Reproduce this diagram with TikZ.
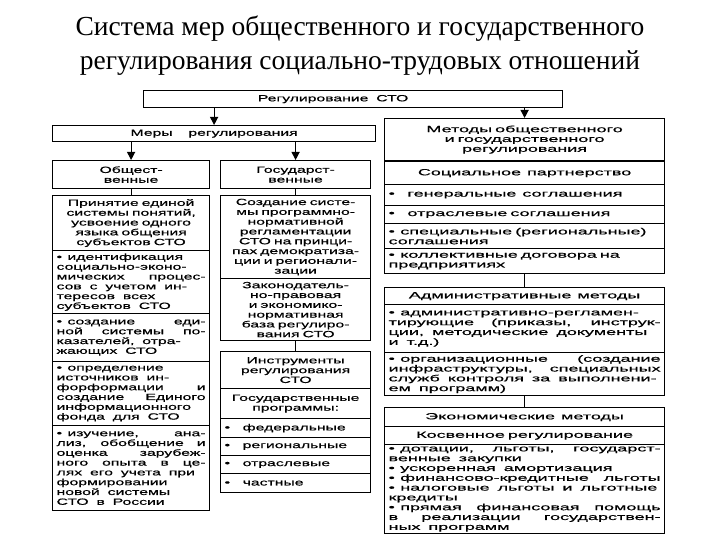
\documentclass[tikz,border=0pt]{standalone}
\usepackage{fontspec}
\setmainfont{Liberation Serif}
\newfontfamily\cellfont[FakeStretch=1.75,WordSpace=1.8,FakeBold=0.6]{Liberation Sans}
\newfontfamily\widecellfont[FakeStretch=2.0,WordSpace=1.6,FakeBold=0.6]{Liberation Sans}
\usetikzlibrary{arrows.meta}
\hyphenpenalty=10000
\exhyphenpenalty=10000
\hbadness=10000
\tolerance=10000
\newcommand{\bul}{•\hspace{0.6em}}
\tikzset{
  cell/.style={draw, line width=1.2pt, anchor=north west, inner xsep=4pt, inner ysep=1pt,
    font=\cellfont\fontsize{9}{9.8}\selectfont, align=center},
  leftcol/.style={minimum width=157pt, text width=149pt},
  midcol/.style={minimum width=150pt, text width=142pt},
  rightcol/.style={minimum width=280pt, text width=272pt, font=\widecellfont\fontsize{9}{9.8}\selectfont},
  link/.style={line width=1.2pt},
  arr/.style={line width=1.2pt, -{Triangle[length=8pt,width=8pt]}}
}
\begin{document}
\begin{tikzpicture}[x=1pt,y=-1pt]
\useasboundingbox (0,0) rectangle (720,540);
% heading
\node [font=\fontsize{27.5}{34}\selectfont, align=center] (title) at (360,46)
  {Система мер общественного и государственного\\регулирования социально-трудовых отношений};

\node [cell, minimum width=419pt, minimum height=17pt] (rsto) at (143,90) {Регулирование СТО\hspace*{40pt}};
\node [cell, minimum width=323pt, minimum height=16pt] (mery) at (52,125) {Меры\ \ регулирования};
\node [cell, rightcol, minimum height=42pt] (metody) at (384,118)
  {Методы общественного\\и государственного\\регулирования};

\node [cell, leftcol, minimum height=28pt] (obsh) at (52,160) {Общест-\\венные};
\node [cell, midcol, minimum height=28pt] (gos) at (220,160) {Государст-\\венные};

% left column
\node [cell, leftcol, minimum height=55pt] (prin) at (52,195)
  {Принятие единой\\системы понятий,\\усвоение одного\\языка общения\\субъектов СТО};
\node [cell, leftcol, minimum height=63pt, align=justify] (ident) at (52,250)
  {\bul идентификация\linebreak социально-эконо-\linebreak мических процес-\linebreak сов с учетом ин-\\тересов всех\\субъектов СТО};
\node [cell, leftcol, minimum height=48pt, align=justify] (sozd) at (52,313)
  {\bul создание еди-\linebreak ной системы по-\linebreak казателей, отра-\\жающих СТО};
\node [cell, leftcol, minimum height=64pt, align=justify] (opred) at (52,361)
  {\bul определение\\источников ин-\\форформации и\linebreak создание Единого\linebreak информационного\linebreak фонда для СТО};
\node [cell, leftcol, minimum height=85pt, align=justify] (izuch) at (52,425)
  {\bul изучение, ана-\linebreak лиз, обобщение и\linebreak оценка зарубеж-\linebreak ного опыта в це-\linebreak лях его учета при\\формировании\\новой системы\\СТО в России};

% middle column
\node [cell, midcol, minimum height=83pt] (sozdsys) at (220,195)
  {Создание систе-\\мы программно-\\нормативной\\регламентации\\СТО на принци-\\пах демократиза-\\ции и регионали-\\зации};
\node [cell, midcol, minimum height=62pt] (zakon) at (220,278)
  {Законодатель-\\но-правовая\\и экономико-\\нормативная\\база регулиро-\\вания СТО};
\node [cell, midcol, minimum height=37pt] (instr) at (220,351)
  {Инструменты\\регулирования\\СТО};
\node [cell, midcol, minimum height=30pt] (gosprog) at (220,388)
  {Государственные\\программы:};
\node [cell, midcol, minimum height=19pt, align=left] (fed) at (220,418) {•\hspace{1.4em}федеральные};
\node [cell, midcol, minimum height=18pt, align=left] (reg) at (220,437) {•\hspace{1.4em}региональные};
\node [cell, midcol, minimum height=18pt, align=left] (otr) at (220,455) {•\hspace{1.4em}отраслевые};
\node [cell, midcol, minimum height=19pt, align=left] (chast) at (220,473) {•\hspace{1.4em}частные};

% right column
\node [cell, rightcol, minimum height=23pt] (socp) at (384,161) {Социальное\ \ партнерство};
\node [cell, rightcol, minimum height=21pt, align=left] (gen) at (384,184)
  {•\hspace{1.4em}генеральные\ \ соглашения};
\node [cell, rightcol, minimum height=18pt, align=left] (otrs) at (384,205)
  {•\hspace{1.4em}отраслевые соглашения};
\node [cell, rightcol, minimum height=25pt, align=left] (spec) at (384,223)
  {\bul специальные (региональные)\\соглашения};
\node [cell, rightcol, minimum height=25pt, align=left] (koll) at (384,248)
  {\bul коллективные договора на\\предприятиях};

\node [cell, rightcol, minimum height=17pt] (adm) at (384,287) {Административные\ \ методы};
\node [cell, rightcol, minimum height=48pt, align=justify] (admreg) at (384,304)
  {\bul административно-регламен-\linebreak тирующие (приказы, инструк-\linebreak ции, методические документы\\и т.д.)};
\node [cell, rightcol, minimum height=43pt, align=justify] (org) at (384,352)
  {\bul организационные (создание\linebreak инфраструктуры, специальных\linebreak служб контроля за выполнени-\\ем программ)};

\node [cell, rightcol, minimum height=19pt] (econ) at (384,407) {Экономические\ \ методы};
\node [cell, rightcol, minimum height=18pt] (kosv) at (384,426) {Косвенное регулирование};
\node [cell, rightcol, minimum height=89pt, inner ysep=0pt, align=justify] (list) at (384,444)
  {\bul дотации, льготы, государст-\linebreak венные закупки\\\bul ускоренная амортизация\\\bul финансово-кредитные льготы\linebreak \bul налоговые льготы и льготные\\кредиты\\\bul прямая финансовая помощь\linebreak в реализации государствен-\linebreak ных программ};

% arrows
\draw [arr] (mery.north |- rsto.south) -- (mery.north);
\draw [arr] (metody.north |- rsto.south) -- (metody.north);
\draw [arr] (obsh.north |- mery.south) -- (obsh.north);
\draw [arr] (gos.north |- mery.south) -- (gos.north);

\draw [link] (obsh.south) -- (prin.north);
\draw [link] (gos.south) -- (sozdsys.north);
\draw [link] (zakon.south) -- (instr.north);
\draw [link] (koll.south) -- (adm.north);
\draw [link] (org.south) -- (econ.north);
\end{tikzpicture}
\end{document}
